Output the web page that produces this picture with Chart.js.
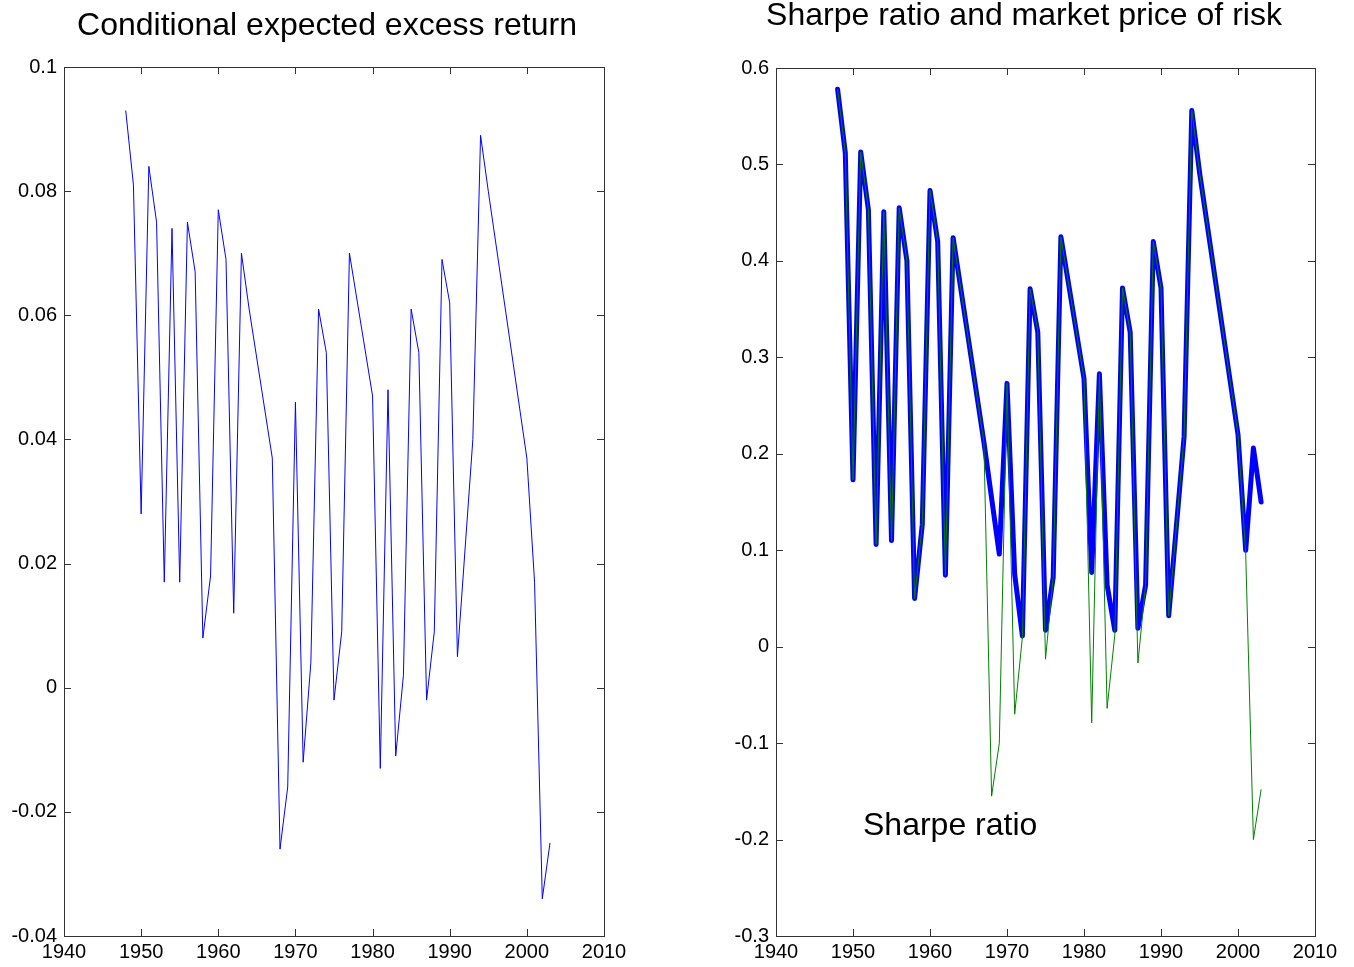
<!DOCTYPE html>
<html>
<head>
<meta charset="utf-8">
<title>Conditional expected excess return / Sharpe ratio</title>
<script src="https://cdn.jsdelivr.net/npm/chart.js@4.4.1/dist/chart.umd.min.js"></script>
<style>
  html, body { margin: 0; padding: 0; background: #fff; }
  #wrap { position: relative; width: 1354px; height: 967px; }
  .panel { position: absolute; top: 0; }
  #left { left: 0; }
  #right { left: 690px; }
</style>
</head>
<body>
<div id="wrap">
  <div class="panel" id="left"><canvas id="retChart" width="690" height="967"></canvas></div>
  <div class="panel" id="right"><canvas id="sharpeChart" width="664" height="967"></canvas></div>
</div>
<script>
// ---- data ----
const xTicks = [1940, 1950, 1960, 1970, 1980, 1990, 2000, 2010];
const retTicks = [-0.04, -0.02, 0, 0.02, 0.04, 0.06, 0.08, 0.1];
const sharpeTicks = [-0.3, -0.2, -0.1, 0, 0.1, 0.2, 0.3, 0.4, 0.5, 0.6];

// conditional expected excess return (left)
const retYears = [1948, 1949, 1950, 1951, 1952, 1953, 1954, 1955, 1956, 1957,
  1958, 1959, 1960, 1961, 1962, 1963, 1964, 1967, 1968, 1969,
  1970, 1971, 1972, 1973, 1974, 1975, 1976, 1977, 1980, 1981,
  1982, 1983, 1984, 1985, 1986, 1987, 1988, 1989, 1990, 1991,
  1993, 1994, 1995, 2000, 2001, 2002, 2003];
const retValues = [0.093, 0.081, 0.028, 0.084, 0.075, 0.017, 0.074, 0.017, 0.075, 0.067,
  0.008, 0.018, 0.077, 0.069, 0.012, 0.070, 0.061, 0.037, -0.026, -0.016,
  0.046, -0.012, 0.004, 0.061, 0.054, -0.002, 0.009, 0.070, 0.047, -0.013,
  0.048, -0.011, 0.002, 0.061, 0.054, -0.002, 0.009, 0.069, 0.062, 0.005,
  0.040, 0.089, 0.080, 0.037, 0.017, -0.034, -0.025];

// Sharpe ratio (thin green)
const sharpeYears = [1948, 1949, 1950, 1951, 1952, 1953, 1954, 1955, 1956, 1957,
  1958, 1959, 1960, 1961, 1962, 1963, 1967, 1968, 1969, 1970,
  1971, 1972, 1973, 1974, 1975, 1976, 1977, 1980, 1981, 1982,
  1983, 1984, 1985, 1986, 1987, 1988, 1989, 1990, 1991, 1993,
  1994, 1995, 2000, 2001, 2002, 2003];
const sharpeValues = [0.578, 0.512, 0.173, 0.513, 0.453, 0.106, 0.451, 0.110, 0.455, 0.400,
  0.050, 0.127, 0.473, 0.420, 0.074, 0.424, 0.212, -0.155, -0.100, 0.273,
  -0.070, 0.010, 0.371, 0.327, -0.013, 0.072, 0.425, 0.278, -0.079, 0.283,
  -0.064, 0.012, 0.372, 0.326, -0.017, 0.064, 0.420, 0.372, 0.032, 0.218,
  0.556, 0.492, 0.220, 0.097, -0.200, -0.148];

// market price of risk (thick blue)
const mprYears = [1948, 1949, 1950, 1951, 1952, 1953, 1954, 1955, 1956, 1957,
  1958, 1959, 1960, 1961, 1962, 1963, 1967, 1969, 1970, 1971,
  1972, 1973, 1974, 1975, 1976, 1977, 1980, 1981, 1982, 1983,
  1984, 1985, 1986, 1987, 1988, 1989, 1990, 1991, 1993, 1994,
  1995, 2000, 2001, 2002, 2003];
const mprValues = [0.578, 0.512, 0.173, 0.513, 0.453, 0.106, 0.451, 0.110, 0.455, 0.400,
  0.050, 0.127, 0.473, 0.420, 0.074, 0.424, 0.212, 0.096, 0.273, 0.075,
  0.011, 0.371, 0.326, 0.017, 0.072, 0.425, 0.278, 0.077, 0.283, 0.064,
  0.017, 0.372, 0.326, 0.019, 0.064, 0.420, 0.372, 0.032, 0.218, 0.556,
  0.492, 0.220, 0.100, 0.206, 0.150];

const FONT = "'Liberation Sans', Arial, Helvetica, sans-serif";

function pairs(xs, ys) {
  return xs.map((x, i) => ({ x: x, y: ys[i] }));
}

// box round the axes with inward ticks on all four sides, plus free texts
const matlabAxes = {
  id: 'matlabAxes',
  afterDatasetsDraw(chart, args, opts) {
    const ctx = chart.ctx;
    const a = chart.chartArea;
    const xs = chart.scales.x, ys = chart.scales.y;
    const len = opts.tickLen || 7;
    ctx.save();
    ctx.strokeStyle = '#333';
    ctx.lineWidth = 1;
    ctx.beginPath();
    xs.ticks.forEach(t => {
      const px = Math.round(xs.getPixelForValue(t.value)) + 0.5;
      ctx.moveTo(px, a.bottom); ctx.lineTo(px, a.bottom - len);
      ctx.moveTo(px, a.top); ctx.lineTo(px, a.top + len);
    });
    ys.ticks.forEach(t => {
      const py = Math.round(ys.getPixelForValue(t.value)) + 0.5;
      ctx.moveTo(a.left, py); ctx.lineTo(a.left + len, py);
      ctx.moveTo(a.right, py); ctx.lineTo(a.right - len, py);
    });
    ctx.stroke();
    ctx.strokeRect(Math.round(a.left) + 0.5, Math.round(a.top) + 0.5,
      Math.round(a.right - a.left), Math.round(a.bottom - a.top));
    ctx.fillStyle = '#000';
    (opts.texts || []).forEach(t => {
      ctx.font = t.size + 'px ' + FONT;
      ctx.textAlign = t.align || 'center';
      ctx.textBaseline = 'alphabetic';
      ctx.fillText(t.text, t.x, t.y);
    });
    ctx.restore();
  }
};

function axes(yTicks, yMin, yMax, yWidth) {
  return {
    x: {
      type: 'linear', min: 1940, max: 2010,
      grid: { display: false, drawTicks: false },
      border: { display: false },
      afterBuildTicks: s => { s.ticks = xTicks.map(v => ({ value: v })); },
      afterFit: s => { s.height = 31; },
      ticks: { padding: 4, color: '#000', font: { family: FONT, size: 20 },
        maxRotation: 0, autoSkip: false, callback: v => String(v) }
    },
    y: {
      type: 'linear', min: yMin, max: yMax,
      grid: { display: false, drawTicks: false },
      border: { display: false },
      afterBuildTicks: s => { s.ticks = yTicks.map(v => ({ value: v })); },
      afterFit: s => { s.width = yWidth; },
      ticks: { padding: 7, color: '#000', font: { family: FONT, size: 20 },
        autoSkip: false, callback: v => String(v) }
    }
  };
}

new Chart(document.getElementById('retChart'), {
  type: 'line',
  data: {
    datasets: [{
      label: 'Conditional expected excess return',
      data: pairs(retYears, retValues),
      borderColor: '#0000ff',
      borderWidth: 1,
      pointRadius: 0,
      tension: 0,
      fill: false
    }]
  },
  options: {
    responsive: false,
    animation: false,
    layout: { padding: { top: 67, right: 86, left: 0, bottom: 0 } },
    scales: axes(retTicks, -0.04, 0.1, 64),
    plugins: {
      legend: { display: false },
      tooltip: { enabled: false },
      matlabAxes: {
        texts: [{ text: 'Conditional expected excess return', x: 327, y: 35, size: 32 }]
      }
    }
  },
  plugins: [matlabAxes]
});

new Chart(document.getElementById('sharpeChart'), {
  type: 'line',
  data: {
    datasets: [{
      label: 'Sharpe ratio',
      data: pairs(sharpeYears, sharpeValues),
      borderColor: '#008000',
      borderWidth: 1,
      pointRadius: 0,
      tension: 0,
      fill: false,
      order: 0
    }, {
      label: 'Market price of risk',
      data: pairs(mprYears, mprValues),
      borderColor: '#0000ff',
      borderWidth: 5,
      borderJoinStyle: 'round',
      borderCapStyle: 'round',
      pointRadius: 0,
      tension: 0,
      fill: false,
      order: 1
    }]
  },
  options: {
    responsive: false,
    animation: false,
    layout: { padding: { top: 68, right: 39, left: 0, bottom: 0 } },
    scales: axes(sharpeTicks, -0.3, 0.6, 86),
    plugins: {
      legend: { display: false },
      tooltip: { enabled: false },
      matlabAxes: {
        texts: [
          { text: 'Sharpe ratio and market price of risk', x: 334, y: 25, size: 32 },
          { text: 'Sharpe ratio', x: 863 - 690, y: 835, size: 32, align: 'left' }
        ]
      }
    }
  },
  plugins: [matlabAxes]
});
</script>
</body>
</html>
